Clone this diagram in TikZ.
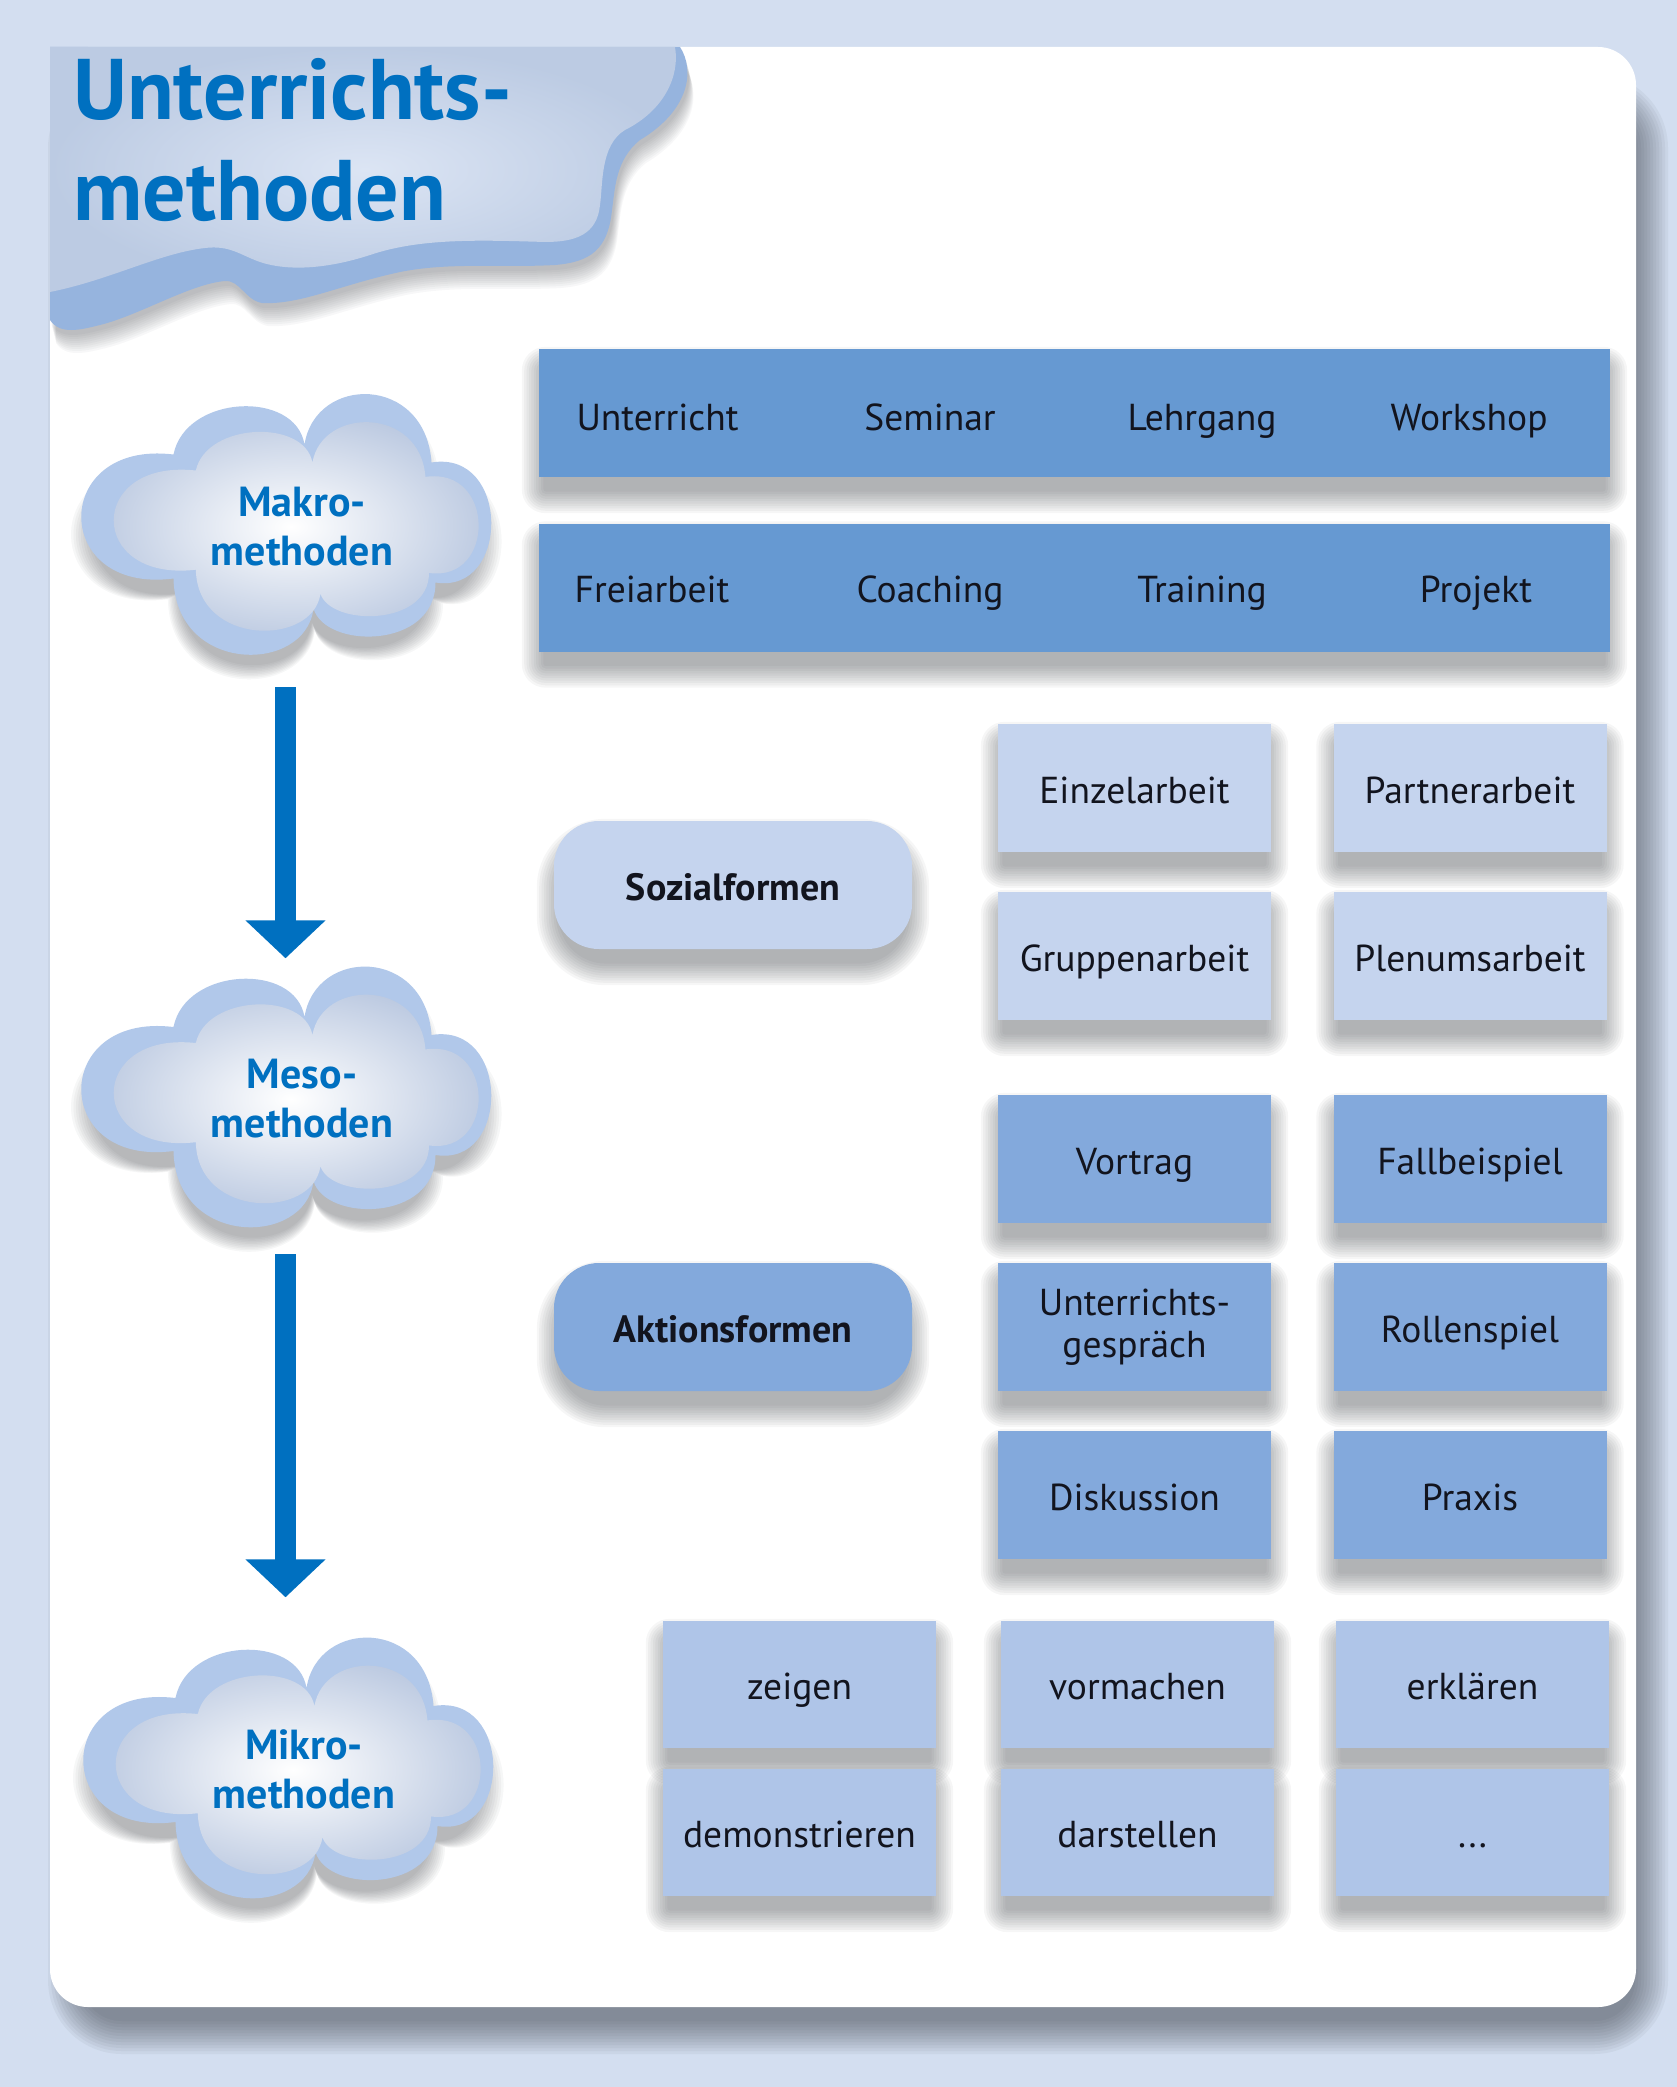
\documentclass[tikz,border=0pt]{standalone}
\usepackage{fontspec}
\setmainfont{PT Sans}
\usetikzlibrary{arrows.meta,calc}
\pgfdeclarelayer{back}
\pgfdeclarelayer{shadows}
\pgfsetlayers{back,shadows,main}
\definecolor{bgblue}{HTML}{D3DEF0}
\definecolor{titleblue}{HTML}{0070C0}
\definecolor{barblue}{HTML}{6699D2}
\definecolor{sozblue}{HTML}{C5D4EE}
\definecolor{aktblue}{HTML}{83A9DC}
\definecolor{mikblue}{HTML}{AFC5E8}
\definecolor{cloudedge}{HTML}{B1C8EA}
\definecolor{cloudin}{HTML}{BAC8E0}
\definecolor{titleback}{HTML}{96B4DE}
\definecolor{titlefrontin}{HTML}{DCE5F4}
\definecolor{titlefrontout}{HTML}{BCCBE3}
\definecolor{txt}{HTML}{12141E}
\definecolor{shadowcol}{HTML}{30343C}
\newcommand\boxshadow[2]{%
  \foreach \i in {1,...,10}{%
    \fill[shadowcol, opacity=0.042, rounded corners={#1+2.4*\i}]
      ($(#2.north west)+({7-2.4*\i},{22-2.4*\i})$) rectangle ($(#2.south east)+({-7+2.4*\i},{12+2.4*\i})$);
  }}
\begin{document}
\begin{tikzpicture}[x=1pt,y=-1pt,
  boxbase/.style={rectangle, inner sep=0pt, minimum width=273pt, minimum height=128pt, text=txt,
    font=\fontsize{37.5}{42}\selectfont, align=center, text height=31pt, text depth=1pt},
  sozbox/.style={boxbase, fill=sozblue},
  aktbox/.style={boxbase, fill=aktblue},
  mikbox/.style={boxbase, fill=mikblue, minimum height=127pt},
  bar/.style={rectangle, fill=barblue, inner sep=0pt, minimum width=1071pt, minimum height=128pt},
  bartext/.style={anchor=base, inner sep=0pt, text=txt, font=\fontsize{37.5}{42}\selectfont},
  pill/.style={rectangle, rounded corners=45pt, inner sep=0pt, minimum width=358pt, minimum height=128pt,
    text=txt, font=\bfseries\fontsize{38}{42}\selectfont, text height=31pt, text depth=1pt},
  cloudlabel/.style={align=center, text=titleblue, font=\bfseries\fontsize{42}{49}\selectfont, inner sep=0pt},
  cloudbox/.style={rectangle, inner sep=0pt, minimum width=415pt, minimum height=261pt},
  titletext/.style={anchor=base west, inner sep=0pt, text=titleblue, font=\bfseries\fontsize{86}{98}\selectfont},
  flow/.style={titleblue, line width=21pt, -{Triangle[width=78pt,length=38pt]}},
  cloudpath/.style={insert path={(-112,-70) .. controls (-100,-130) and (10,-135) .. (19,-80)
      .. controls (30,-150) and (140,-150) .. (146,-62)
      .. controls (225,-75) and (225,70) .. (150,58)
      .. controls (150,125) and (40,125) .. (28,84)
      .. controls (20,150) and (-110,150) .. (-112,54)
      .. controls (-235,70) and (-235,-85) .. (-112,-70) -- cycle}},
  titlebackpath/.style={insert path={(50,47) -- (680,47) .. controls (695,70) and (690,110) .. (640,140)
      .. controls (615,160) and (615,190) .. (612,210)
      .. controls (608,250) and (590,262) .. (555,265)
      .. controls (500,268) and (450,262) .. (400,272)
      .. controls (340,285) and (300,305) .. (262,303)
      .. controls (245,300) and (240,280) .. (225,281)
      .. controls (190,284) and (140,315) .. (100,325)
      .. controls (80,330) and (60,335) .. (50,320) -- cycle}},
  mcloud/.pic={
    \begin{pgfonlayer}{shadows}
      \foreach \i in {1,...,10}{\fill[shadowcol, opacity=0.04, shift={(0,18)}, scale={0.93+0.012*\i}, cloudpath];}
    \end{pgfonlayer}
    \fill[cloudedge, cloudpath];
    \shade[inner color=white, outer color=cloudin, shift={(10,2)}, xscale=0.89, yscale=0.80, cloudpath];
  }
]
\useasboundingbox (0,0) rectangle (1677,2087);
\begin{pgfonlayer}{back}
\fill[bgblue] (0,0) rectangle (1677,2087);
\foreach \i in {1,...,12}{%
  \fill[shadowcol, opacity=0.05, rounded corners={38+3*\i}]
    ({84-3*\i},{110-3*\i}) rectangle ({1632+3*\i},{2018+3*\i});
}
\fill[white, rounded corners=38pt] (50,47) rectangle (1636,2007);
\end{pgfonlayer}

% title cloud
\begin{pgfonlayer}{shadows}
\foreach \i in {1,...,10}{\fill[shadowcol, opacity=0.035, shift={(1+0.5*\i,3+2*\i)}, titlebackpath];}
\end{pgfonlayer}
\fill[titleback, titlebackpath];
\shade[inner color=titlefrontin, outer color=titlefrontout]
  (50,47) -- (675,47) .. controls (680,75) and (665,110) .. (625,130)
  .. controls (600,145) and (603,185) .. (600,205)
  .. controls (597,235) and (575,242) .. (545,242)
  .. controls (480,240) and (420,238) .. (370,255)
  .. controls (330,268) and (290,272) .. (260,262)
  .. controls (240,255) and (230,245) .. (205,248)
  .. controls (160,253) and (110,280) .. (50,292) -- cycle;
\node[titletext] (title1) at (73,120) {Unterrichts-};
\node[titletext] (title2) at (73,220) {methoden};

% clouds
\pic at (285.5,524.5) {mcloud};
\pic at (285.5,1097) {mcloud};
\pic at (287.5,1768) {mcloud};
\node[cloudbox] (makro) at (285.5,524.5) {};
\node[cloudbox] (meso) at (285.5,1097) {};
\node[cloudbox] (mikro) at (287.5,1768) {};
\node[cloudlabel] (makrolabel) at (302,527) {Makro-\\methoden};
\node[cloudlabel] (mesolabel) at (302,1099) {Meso-\\methoden};
\node[cloudlabel] (mikrolabel) at (304,1769) {Mikro-\\methoden};

% arrows
\draw[flow] ($(makro.south)+(0,32)$) -- ($(meso.north)+(0,-8)$);
\draw[flow] ($(meso.south)+(0,26.5)$) -- ($(meso.south |- mikro.north)+(0,-40)$);

% makro bars
\node[bar] (bar1) at (1074.5,413) {};
\node[bar] (bar2) at (1074.5,587.5) {};
\node[bartext] (t11) at (657.5,430) {Unterricht};
\node[bartext] (t12) at (930,430) {Seminar};
\node[bartext] (t13) at (1202,430) {Lehrgang};
\node[bartext] (t14) at (1469,430) {Workshop};
\node[bartext] (t21) at (652,602) {Freiarbeit};
\node[bartext] (t22) at (930,602) {Coaching};
\node[bartext] (t23) at (1202,602) {Training};
\node[bartext] (t24) at (1476,602) {Projekt};

% Sozialformen
\node[pill, fill=sozblue] (soz) at (733,885) {Sozialformen};
\node[sozbox] (einzel) at (1134.5,788) {Einzelarbeit};
\node[sozbox] (partner) at (1470,788) {Partnerarbeit};
\node[sozbox] (gruppe) at (1134.5,956) {Gruppenarbeit};
\node[sozbox] (plenum) at (1470,956) {Plenumsarbeit};

% Aktionsformen
\node[pill, fill=aktblue] (akt) at (733,1327) {Aktionsformen};
\node[aktbox] (vortrag) at (1134.5,1159) {Vortrag};
\node[aktbox] (fall) at (1470,1159) {Fallbeispiel};
\node[aktbox, text height={}, text depth={}] (ugespr) at (1134.5,1327) {Unterrichts-\\gespräch};
\node[aktbox] (rolle) at (1470,1327) {Rollenspiel};
\node[aktbox] (disk) at (1134.5,1495) {Diskussion};
\node[aktbox] (praxis) at (1470,1495) {Praxis};

% Mikro
\node[mikbox] (zeigen) at (799.5,1684.5) {zeigen};
\node[mikbox] (vormachen) at (1137.5,1684.5) {vormachen};
\node[mikbox] (erklaeren) at (1472.5,1684.5) {erklären};
\node[mikbox] (demo) at (799.5,1832.5) {demonstrieren};
\node[mikbox] (darst) at (1137.5,1832.5) {darstellen};
\node[mikbox] (dots) at (1472.5,1832.5) {...};

% shadows
\begin{pgfonlayer}{shadows}
\foreach \n in {bar1,bar2,einzel,partner,gruppe,plenum,vortrag,fall,ugespr,rolle,disk,praxis,zeigen,vormachen,erklaeren,demo,darst,dots}{\boxshadow{0}{\n}}
\boxshadow{45}{soz}
\boxshadow{45}{akt}
\end{pgfonlayer}
\end{tikzpicture}
\end{document}
